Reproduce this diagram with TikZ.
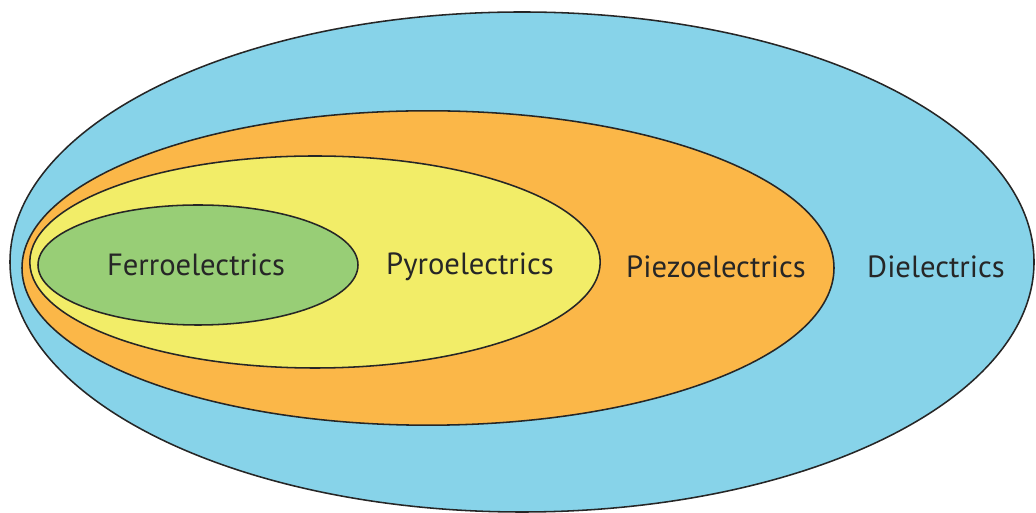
\documentclass[tikz,border=0pt]{standalone}
\usepackage{fontspec}
\setmainfont{PT Sans}
\usepackage{xcolor}
\usepackage{tikz}

\definecolor{dielblue}{RGB}{135,211,233}
\definecolor{piezoorange}{RGB}{251,183,72}
\definecolor{pyroyellow}{RGB}{242,237,104}
\definecolor{ferrogreen}{RGB}{152,206,118}

\begin{document}
\begin{tikzpicture}[zone/.style={draw=black!85, line width=1.1pt},
  lbl/.style={font=\fontsize{21.8}{26}\selectfont, text=black!85}]
  \useasboundingbox (0,0) rectangle (25.9,12.825);
  \begin{scope}
    \clip (0,0) rectangle (25.9,12.825);
    \draw[zone, fill=dielblue] (13.05,6.275) ellipse (12.8 and 6.25);
  \end{scope}
  \draw[zone, fill=piezoorange] (10.7,6.125) ellipse (10.15 and 3.93);
  \draw[zone, fill=pyroyellow] (7.875,6.275) ellipse (7.13 and 2.65);
  \draw[zone, fill=ferrogreen] (4.95,6.2) ellipse (4.0 and 1.5);
  \node[lbl] (ferro) at (4.9,6.2) {Ferroelectrics};
  \node[lbl] (pyro) at (11.75,6.15) {Pyroelectrics};
  \node[lbl] (piezo) at (17.9,6.15) {Piezoelectrics};
  \node[lbl] (diel) at (23.4,6.15) {Dielectrics};
\end{tikzpicture}
\end{document}
